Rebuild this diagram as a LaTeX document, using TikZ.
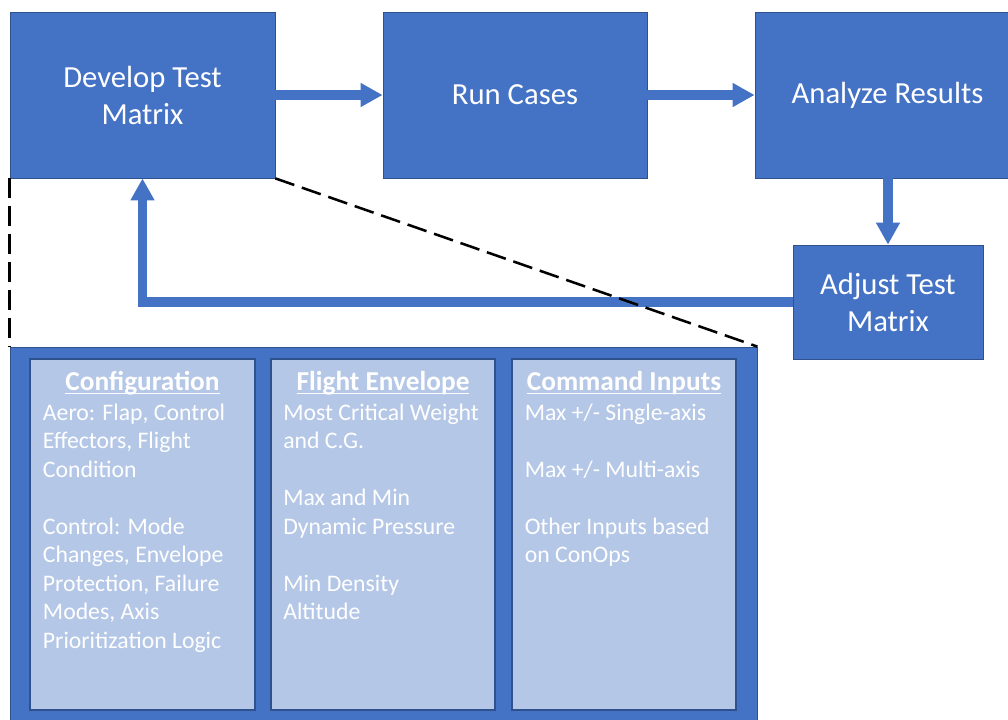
\documentclass[tikz,border=0pt]{standalone}
\usepackage{fontspec}
\setmainfont{Carlito}
\usetikzlibrary{arrows.meta,fit}
\definecolor{mainblue}{HTML}{4472C4}
\definecolor{lightblue}{HTML}{B4C7E7}
\definecolor{edgeblue}{HTML}{2F528F}
\newcommand\myul[1]{\setbox0\hbox{#1}\rlap{\rule[-3pt]{\wd0}{1pt}}\box0}
\begin{document}
\begin{tikzpicture}[x=0.75pt,y=-0.75pt,
  stepbox/.style={rectangle, fill=mainblue, draw=edgeblue, line width=0.6pt, inner sep=0pt},
  steptext/.style={text=white, font=\fontsize{23}{27.75}\selectfont, align=center, inner sep=0pt},
  bigbox/.style={rectangle, fill=mainblue, draw=edgeblue, line width=0.6pt, inner sep=0pt},
  panel/.style={rectangle, fill=lightblue, draw=edgeblue, line width=0.8pt, inner sep=0pt},
  head/.style={anchor=base, text=white, inner sep=0pt, font=\fontsize{20.5}{21.4}\selectfont\bfseries},
  body/.style={anchor=base west, text=white, inner sep=0pt, font=\fontsize{17.8}{21.4}\selectfont},
  flow/.style={draw=mainblue, line width=6.8pt, -{Triangle[length=16.5pt,width=17pt]}},
  zoomline/.style={draw=black, line width=1.9pt, dash pattern=on 15pt off 6pt}]
\clip (0,0) rectangle (1008,719);
\useasboundingbox (0,0) rectangle (1008,719);
% top flow boxes
\node[stepbox, fit={(10,12) (275,178)}] (dev) {};
\node[stepbox, fit={(383,12) (647,178)}] (run) {};
\node[stepbox, fit={(755,12) (1020,178)}] (ana) {};
\node[stepbox, fit={(793,245) (983,359)}] (adj) {};
\node[steptext] (devt) at (dev.center) {Develop Test\\Matrix};
\node[steptext] (runt) at (run.center) {Run Cases};
\node[steptext] (anat) at (ana.center) {Analyze Results};
\node[steptext] (adjt) at (adj.center) {Adjust Test\\Matrix};
% detail box
\node[bigbox, fit={(10,347) (757,730)}] (det) {};
\node[panel, fit={(30,359) (255,710)}] (p1) {};
\node[panel, fit={(271,359) (495,710)}] (p2) {};
\node[panel, fit={(512,359) (736,710)}] (p3) {};
% headings
\node[head] (h1) at (142.5,390) {\myul{Configuration}};
\node[head] (h2) at (383,390) {\myul{Flight Envelope}};
\node[head] (h3) at (624,390) {\myul{Command Inputs}};
% bodies
\node[body] (b1) at (42.7,420) {\parbox[t]{215pt}{\baselineskip=21.4pt
Aero: Flap, Control\\Effectors, Flight\\Condition\\\mbox{}\\Control: Mode\\Changes, Envelope\\Protection, Failure\\Modes, Axis\\Prioritization Logic}};
\node[body] (b2) at (283,420) {\parbox[t]{215pt}{\baselineskip=21.4pt
Most Critical Weight\\and C.G.\\\mbox{}\\Max and Min\\Dynamic Pressure\\\mbox{}\\Min Density\\Altitude}};
\node[body] (b3) at (524.5,420) {\parbox[t]{215pt}{\baselineskip=21.4pt
Max +/- Single-axis\\\mbox{}\\Max +/- Multi-axis\\\mbox{}\\Other Inputs based\\on ConOps}};
% flow arrows
\draw[flow] (dev.east) -- (run.west);
\draw[flow] (run.east) -- (ana.west);
\draw[flow] (ana.south -| adj.north) -- (adj.north);
\draw[flow] (adj.west) -| (dev.south);
% zoom lines
\draw[zoomline] (dev.south west) -- (det.north west);
\draw[zoomline] (dev.south east) -- (det.north east);
\end{tikzpicture}
\end{document}
